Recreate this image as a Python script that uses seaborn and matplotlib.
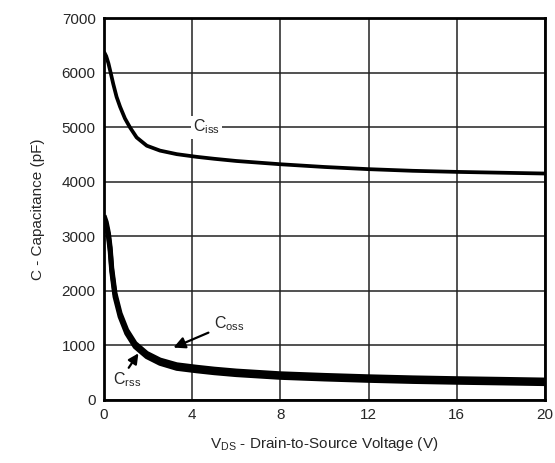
import numpy as np
import pandas as pd
import matplotlib
matplotlib.use("Agg")
import matplotlib.pyplot as plt
import seaborn as sns

# Data
vds_iss = [0.0, 0.1, 0.2, 0.3, 0.42, 0.57, 0.73, 0.95, 1.18, 1.48, 1.94, 2.54, 3.3, 4.2, 5.0, 6.0, 8.0, 10.0, 12.0, 14.0, 16.0, 18.0, 20.0]
ciss = [6380, 6300, 6170, 6000, 5790, 5555, 5372, 5159, 4994, 4811, 4660, 4570, 4505, 4456, 4420, 4380, 4320, 4270, 4230, 4200, 4180, 4165, 4150]

vds_oss = [0.0, 0.1, 0.2, 0.28, 0.35, 0.5, 0.73, 1.03, 1.41, 1.94, 2.54, 3.3, 4.2, 5.0, 6.0, 8.0, 10.0, 12.0, 14.0, 16.0, 18.0, 20.0]
coss = [3380, 3260, 3060, 2790, 2420, 1953, 1587, 1281, 1037, 854, 732, 645, 600, 565, 530, 480, 450, 425, 405, 390, 378, 365]
crss = [3330, 3200, 3000, 2730, 2360, 1893, 1527, 1221, 977, 794, 672, 580, 535, 500, 465, 415, 385, 360, 340, 325, 313, 300]

x_ticks = [0, 4, 8, 12, 16, 20]
y_ticks = [0, 1000, 2000, 3000, 4000, 5000, 6000, 7000]

df = pd.DataFrame({
    "V": vds_iss + vds_oss + vds_oss,
    "C": ciss + coss + crss,
    "series": ["Ciss"] * len(vds_iss) + ["Coss"] * len(vds_oss) + ["Crss"] * len(vds_oss),
})

sns.set_style("white")
plt.rcParams["font.family"] = ["Liberation Sans", "DejaVu Sans"]
plt.rcParams["mathtext.fontset"] = "custom"
plt.rcParams["mathtext.rm"] = "Liberation Sans"

fig = plt.figure(figsize=(5.55, 4.63), dpi=100)
ax = fig.add_axes([0.1874, 0.1361, 0.7946, 0.8250])

sns.lineplot(data=df, x="V", y="C", hue="series",
             palette={"Ciss": "black", "Coss": "black", "Crss": "black"},
             size="series", sizes={"Ciss": 2.7, "Coss": 3.6, "Crss": 3.6},
             legend=False, ax=ax, zorder=3)
for ln in ax.lines:
    ln.set_solid_joinstyle("round")
    ln.set_solid_capstyle("butt")

ax.set_xlim(0, 20)
ax.set_ylim(0, 7000)
ax.set_xticks(x_ticks)
ax.set_yticks(y_ticks)
ax.set_xticklabels([str(t) for t in x_ticks], fontsize=11)
ax.set_yticklabels([str(t) for t in y_ticks], fontsize=11)
ax.tick_params(axis="both", length=0, pad=6)
ax.grid(True, color="#222222", linewidth=1.1)
ax.set_axisbelow(True)
for s in ax.spines.values():
    s.set_color("black")
    s.set_linewidth(2)
    s.set_visible(True)
    s.set_zorder(5)

ax.set_xlabel(r"V$_{\mathregular{DS}}$ - Drain-to-Source Voltage (V)", fontsize=11, labelpad=9)
ax.set_ylabel("C - Capacitance (pF)", fontsize=11, labelpad=12)

# annotations
ax.text(4.05, 5000, r"C$_{\mathregular{iss}}$", fontsize=11.5, va="center", ha="left",
        bbox=dict(facecolor="white", edgecolor="none", pad=1.5), zorder=4)
ax.annotate(r"C$_{\mathregular{oss}}$", xy=(3.15, 960), xytext=(5.0, 1400),
            fontsize=11.5, va="center", ha="left", zorder=4,
            arrowprops=dict(arrowstyle="-|>,head_length=0.6,head_width=0.3", color="black", lw=1.6,
                            shrinkA=2, shrinkB=0))
ax.text(0.4, 370, r"C$_{\mathregular{rss}}$", fontsize=11.5, va="center", ha="left", zorder=4)
ax.annotate("", xy=(1.56, 855), xytext=(1.12, 590), zorder=4,
            arrowprops=dict(arrowstyle="-|>,head_length=0.6,head_width=0.3", color="black", lw=1.6,
                            shrinkA=0, shrinkB=0))

fig.savefig("out.png", dpi=100, facecolor="white")
